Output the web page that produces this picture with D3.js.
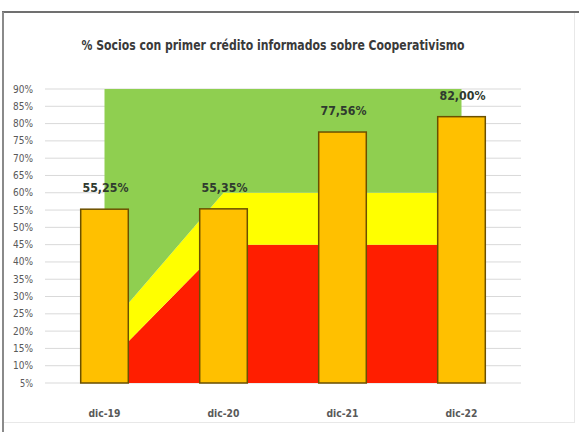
<!DOCTYPE html>
<html>
<head>
<meta charset="utf-8">
<script src="https://cdn.jsdelivr.net/npm/d3@7"></script>
<style>
  html, body { margin: 0; padding: 0; background: #ffffff; }
  svg { display: block; }
  text { font-family: "Liberation Sans Narrow", "DejaVu Sans Condensed", "DejaVu Sans", sans-serif; font-stretch: condensed; }
</style>
</head>
<body>
<svg id="chart" width="579" height="432"></svg>
<script>
// Categories (December of each year)
const categories = ["dic-19", "dic-20", "dic-21", "dic-22"];
// % of members with a first credit informed about cooperativism
const actualValues = [55.25, 55.35, 77.56, 82.00];
const actualLabels = ["55,25%", "55,35%", "77,56%", "82,00%"];
// Traffic-light bands (stacked thicknesses of red / yellow / green)
const redBand = [10, 45, 45, 45];
const yellowBand = [10, 15, 15, 15];
const greenBand = [70, 30, 30, 30];
// Axis ticks
const yTicks = d3.range(5, 91, 5);

const svg = d3.select("#chart");
const W = 579, H = 432;

// Frame
svg.append("rect").attr("x", 2.5).attr("y", 11.5).attr("width", 572).attr("height", 411)
  .attr("fill", "#ffffff").attr("stroke", "#e8e8e8").attr("stroke-width", 1);
svg.append("line").attr("x1", 2).attr("x2", W).attr("y1", 12).attr("y2", 12)
  .attr("stroke", "#707070").attr("stroke-width", 2);
svg.append("line").attr("x1", 3).attr("x2", 3).attr("y1", 12).attr("y2", H)
  .attr("stroke", "#8a8a8a").attr("stroke-width", 2);

// Title
svg.append("text")
  .attr("x", 273).attr("y", 50)
  .attr("text-anchor", "middle")
  .attr("font-size", 14)
  .attr("font-weight", "bold")
  .attr("fill", "#3a3a3a")
  .attr("textLength", 383)
  .attr("lengthAdjust", "spacingAndGlyphs")
  .text("% Socios con primer crédito informados sobre Cooperativismo");

// Scales
const x = d3.scalePoint().domain(categories).range([45, 521]).padding(0.5);
const step = x.step();
const y = d3.scaleLinear().domain([5, 90]).range([383, 89]);

// Gridlines
svg.append("g").selectAll("line").data(yTicks).join("line")
  .attr("x1", 45).attr("x2", 521)
  .attr("y1", d => y(d)).attr("y2", d => y(d))
  .attr("stroke", "#d9d9d9").attr("stroke-width", 1);

// Y tick labels
svg.append("g").selectAll("text").data(yTicks).join("text")
  .attr("x", 33).attr("y", d => y(d) + 3.5)
  .attr("text-anchor", "end")
  .attr("font-size", 10)
  .attr("fill", "#595959")
  .attr("textLength", d => d < 10 ? 13 : 20)
  .attr("lengthAdjust", "spacingAndGlyphs")
  .text(d => d + "%");

// Stacked bands
const rows = categories.map((c, i) => ({ cat: c, red: redBand[i], yellow: yellowBand[i], green: greenBand[i] }));
const stack = d3.stack().keys(["red", "yellow", "green"]);
const series = stack(rows);
const colors = { red: "#ff1e00", yellow: "#ffff00", green: "#8fcf50" };
const area = d3.area()
  .x(d => x(d.data.cat))
  .y0(d => y(Math.max(5, d[0])))
  .y1(d => y(d[1]));
svg.append("g").selectAll("path").data(series).join("path")
  .attr("d", area)
  .attr("fill", d => colors[d.key]);

// Bars
const bw = step * 0.4;
svg.append("g").selectAll("rect").data(actualValues).join("rect")
  .attr("x", (d, i) => x(categories[i]) - bw / 2)
  .attr("y", d => y(d))
  .attr("width", bw)
  .attr("height", d => y(5) - y(d))
  .attr("fill", "#ffc000")
  .attr("stroke", "#6b5000")
  .attr("stroke-width", 1.5);

// Value labels
svg.append("g").selectAll("text").data(actualValues).join("text")
  .attr("x", (d, i) => x(categories[i]) + 1)
  .attr("y", d => y(d) - 17)
  .attr("text-anchor", "middle")
  .attr("font-size", 13)
  .attr("font-weight", "bold")
  .attr("fill", "#2f3a2f")
  .attr("textLength", 46)
  .attr("lengthAdjust", "spacingAndGlyphs")
  .text((d, i) => actualLabels[i]);

// X labels
svg.append("g").selectAll("text").data(categories).join("text")
  .attr("x", d => x(d))
  .attr("y", 417)
  .attr("text-anchor", "middle")
  .attr("font-size", 11)
  .attr("font-weight", "bold")
  .attr("fill", "#595959")
  .attr("textLength", 32)
  .attr("lengthAdjust", "spacingAndGlyphs")
  .text(d => d);
</script>
</body>
</html>
